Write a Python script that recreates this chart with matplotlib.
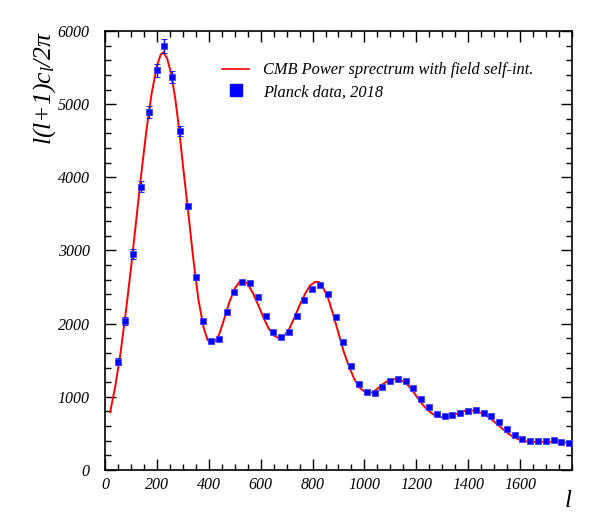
import matplotlib
matplotlib.use("Agg")
import matplotlib.pyplot as plt
from matplotlib.lines import Line2D
from matplotlib.ticker import MultipleLocator

# Planck 2018 binned points (multipole l, D_l, error)
ell = [49, 79, 109, 139, 169, 199, 229, 259, 289, 319, 349, 379, 409, 439, 469,
       499, 529, 559, 589, 619, 649, 679, 709, 739, 769, 799, 829, 859, 889, 919,
       949, 979, 1009, 1039, 1069, 1099, 1129, 1159, 1189, 1219, 1249, 1279, 1309,
       1339, 1369, 1399, 1429, 1459, 1489, 1519, 1549, 1579, 1609, 1639, 1669,
       1699, 1729, 1759, 1789]
dl = [1479, 2035, 2950, 3869, 4889, 5463, 5795, 5367, 4630, 3602, 2633, 2035,
      1758, 1789, 2162, 2427, 2572, 2550, 2363, 2099, 1885, 1812, 1885, 2099,
      2318, 2468, 2522, 2400, 2085, 1744, 1420, 1175, 1061, 1048, 1138, 1211,
      1239, 1211, 1120, 974, 865, 761, 738, 747, 778, 806, 815, 778, 733, 651,
      556, 478, 423, 396, 396, 396, 406, 387, 373]
err = [45, 52, 70, 75, 80, 90, 90, 80, 65, 40, 30, 25, 22, 22, 22, 22, 22, 22,
       20, 20, 18, 18, 18, 18, 18, 18, 18, 18, 16, 16, 15, 14, 14, 14, 14, 14,
       14, 14, 13, 13, 12, 12, 12, 12, 12, 12, 12, 12, 12, 12, 12, 12, 12, 12,
       12, 12, 12, 12, 12]

# model curve
curve_l = [20, 40, 60, 80, 100, 120, 140, 160, 180, 200, 215, 225, 240, 255,
           270, 285, 300, 320, 340, 360, 380, 395, 410, 425, 440, 460, 480, 500,
           520, 535, 550, 570, 590, 610, 630, 650, 670, 690, 710, 730, 750, 770,
           790, 810, 825, 840, 860, 880, 900, 920, 940, 960, 980, 1000, 1015,
           1030, 1050, 1070, 1090, 1110, 1130, 1150, 1170, 1190, 1210, 1230,
           1250, 1270, 1290, 1310, 1330, 1350, 1370, 1390, 1410, 1430, 1450,
           1470, 1490, 1510, 1530, 1550, 1570, 1590, 1610, 1630, 1660, 1700,
           1740, 1770, 1800]
curve_d = [790, 1150, 1600, 2150, 2750, 3400, 4050, 4650, 5150, 5520, 5680,
           5710, 5620, 5420, 5100, 4680, 4180, 3550, 2900, 2330, 1950, 1780,
           1730, 1760, 1850, 2070, 2300, 2480, 2580, 2590, 2540, 2420, 2260,
           2090, 1940, 1840, 1800, 1830, 1930, 2080, 2250, 2400, 2520, 2570,
           2570, 2500, 2350, 2120, 1870, 1620, 1420, 1250, 1130, 1070, 1050,
           1060, 1110, 1170, 1220, 1240, 1240, 1210, 1150, 1060, 960, 870, 800,
           750, 725, 720, 735, 760, 790, 810, 815, 805, 780, 740, 690, 630, 570,
           510, 460, 425, 400, 388, 383, 385, 385, 378, 370]

plt.rcParams['font.family'] = ['Liberation Serif', 'DejaVu Serif']
plt.rcParams['font.style'] = 'italic'
plt.rcParams['mathtext.fontset'] = 'custom'
plt.rcParams['mathtext.it'] = 'Liberation Serif:italic'
plt.rcParams['mathtext.rm'] = 'Liberation Serif'
plt.rcParams['mathtext.default'] = 'it'

fig = plt.figure(figsize=(6.04, 5.20), dpi=100)
ax = fig.add_axes([0.1738, 0.0962, 0.7732, 0.8442])

ax.plot(curve_l, curve_d, color='red', lw=1.4, zorder=2)
ax.errorbar(ell, dl, yerr=err, fmt='s', color='blue', ms=4.8, mec='#4040ff',
            mew=0.6, elinewidth=1.0, capsize=2.5, capthick=1.0, zorder=3)

ax.set_xlim(0, 1800)
ax.set_ylim(0, 6000)
ax.set_xticks([0, 200, 400, 600, 800, 1000, 1200, 1400, 1600])
ax.set_yticks([0, 1000, 2000, 3000, 4000, 5000, 6000])
ax.xaxis.set_minor_locator(MultipleLocator(50))
ax.yaxis.set_minor_locator(MultipleLocator(200))
ax.tick_params(which='both', direction='in', top=True, right=True,
               labelsize=11.5, width=1.0)
ax.tick_params(which='major', length=8)
ax.tick_params(which='minor', length=4)
ax.tick_params(axis='y', which='major', pad=11)
ax.tick_params(axis='x', which='major', pad=5)
for s in ax.spines.values():
    s.set_linewidth(1.2)

ax.set_ylabel(r'$l(l{+}1)c_l/2\mathrm{\pi}$', fontsize=18.5, loc='top', labelpad=0)
ax.set_xlabel(r'$l$', fontsize=18, loc='right', labelpad=-2)

handles = [Line2D([], [], color='red', lw=1.2),
           Line2D([], [], ls='none', marker='s', color='blue', ms=9)]
labels = ['CMB Power sprectrum with field self-int.', 'Planck data, 2018']
ax.legend(handles, labels, loc='upper left', bbox_to_anchor=(0.22, 0.962),
          frameon=False, fontsize=11.8, handlelength=1.6, handletextpad=0.85,
          labelspacing=0.35)

fig.savefig('out.png', dpi=100)
